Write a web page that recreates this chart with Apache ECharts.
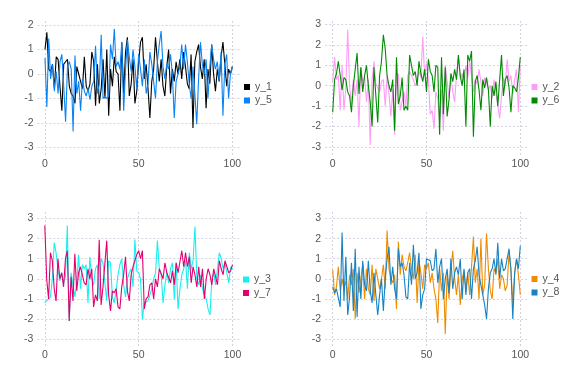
<!DOCTYPE html>
<html>
<head>
<meta charset="utf-8">
<script src="https://cdn.jsdelivr.net/npm/echarts@6/dist/echarts.min.js"></script>
<style>html,body{margin:0;padding:0;background:#fff}#c{width:576px;height:384px}</style>
</head>
<body>
<div id="c"></div>
<script>
const xTicks = [0, 50, 100];
const yTicksTL = [-3, -2, -1, 0, 1, 2];
const yTicks = [-3, -2, -1, 0, 1, 2, 3];

const y_1 = [1.0, 1.7, 0.2, 0.1, 0.4, -0.6, 0.7, 0.6, -0.5, -1.5,
  0.4, 0.5, 0.6, -0.5, -0.8, -0.9, -1.2, 0.3, 0.0, -0.3,
  -0.6, 0.7, -0.5, -0.7, -0.4, 0.9, 0.5, -1.3, 0.4, -1.2,
  -0.6, 0.6, -1.0, 1.0, -1.7, 0.2, -0.5, 0.7, 0.1, 0.0,
  -1.5, 1.3, -0.8, 0.9, 1.5, -0.9, -0.4, 0.6, -1.2, -0.7,
  0.5, 1.3, 1.5, -0.2, 0.4, -0.6, -1.8, -0.3, 0.2, 1.5,
  0.5, -0.3, 0.6, -0.5, -0.9, 0.3, 1.0, -0.8, 0.2, -0.3,
  0.5, 0.0, 0.6, -0.2, 0.9, 0.3, -0.4, -0.6, 0.8, -2.2,
  0.5, 0.9, 1.2, 0.3, -0.2, 0.6, -1.4, 0.2, -0.4, 1.2,
  0.0, -0.7, 0.2, -0.3, 0.7, 1.3, 0.4, -0.5, 0.2, 0.0,
  0.3];
const y_5 = [0.65, -1.35, 1.45, -0.2, 0.4, -0.7, 0.1, -0.8, 0.5, 0.8,
  -0.5, -1.95, 0.3, 0.5, 0.2, -2.35, 0.75, -0.8, -0.3, -1.5,
  -0.2, -0.7, -0.9, -0.6, -1.05, -0.5, -0.3, 1.15, -0.8, -0.4,
  1.6, -1.0, -0.9, -1.0, -0.9, 1.2, 0.6, 1.85, 0.3, 0.5,
  0.2, 1.3, -1.5, 0.2, 1.4, 0.7, 0.1, 1.0, 0.3, -0.6,
  0.8, 0.2, -0.5, 0.6, -0.8, -0.4, 0.9, 0.4, -0.3, -1.0,
  0.5, 1.2, 1.75, 0.3, -0.2, 0.4, 0.2, 0.8, 0.0, -1.8,
  -0.3, 0.0, 0.3, 1.2, 0.2, 1.2, 0.5, -0.4, -1.0, 0.3,
  -0.8, -2.05, -0.2, 1.3, 0.4, 0.0, 0.6, -1.0, 0.3, 1.2,
  0.6, 0.2, 0.5, -0.3, 0.9, -1.7, 0.4, 0.8, -1.0, 0.0,
  0.3];
const y_2 = [0.2, 1.4, 0.3, 0.5, -1.2, 1.0, -1.2, -0.1, 2.75, 0.0,
  -0.9, 0.3, -0.5, 0.3, -2.0, 0.9, 0.2, 0.4, -0.8, 0.3,
  -2.9, 0.3, 1.2, 0.1, 0.1, -0.3, 0.2, 0.3, -1.0, 0.5,
  -0.4, -1.5, -0.2, -2.4, 0.3, 0.6, -1.2, -0.8, -0.3, -1.0,
  0.5, 0.7, 0.5, 0.3, 0.0, 0.2, 0.7, 0.4, 2.4, 0.5,
  1.1, 0.3, -1.4, -1.2, -2.1, -0.3, -0.6, -1.6, -0.2, -2.2,
  1.0, 0.2, -0.6, 0.4, -0.3, -0.8, 0.5, 1.4, 0.3, 0.6,
  0.2, 1.0, 0.4, 1.2, 0.5, -0.3, 0.3, 0.1, 0.8, 0.2,
  -0.5, 0.4, 0.2, -0.2, 0.0, -0.6, 0.3, -0.3, -1.0, -1.6,
  -0.5, 0.4, 0.0, 1.3, 0.2, 0.5, -0.4, 0.3, 0.8, -1.3,
  1.0];
const y_6 = [-1.3, 0.3, 0.6, 1.2, 0.5, -0.2, 0.4, 0.3, -0.3, -0.5,
  -1.3, 0.0, 0.0, 1.6, -0.4, 0.9, -0.3, 0.5, 1.0, 0.0,
  -0.8, -2.0, 0.9, -0.5, -1.8, 0.5, 1.2, 2.5, 1.8, 0.5,
  0.0, -0.3, 0.3, -2.2, 1.4, -0.9, -0.5, 0.4, -1.2, -1.0,
  -1.2, 1.5, 1.0, 0.5, 0.7, 0.0, 1.2, 0.6, 0.2, 0.8,
  -0.3, 1.3, 0.7, 0.5, -0.3, 1.0, 0.9, -2.4, 1.4, -1.4,
  0.9, -1.5, -0.7, 0.6, 0.2, 0.8, 0.3, 1.5, 0.5, 0.0,
  0.8, -2.0, 1.5, 1.2, 1.7, -2.5, 0.2, 0.5, -0.2, -1.2,
  0.3, -0.1, 0.4, -0.2, -2.0, 0.0, -0.5, 0.2, -1.0, 0.3,
  1.5, -0.5, 0.3, 0.5, -0.1, -1.3, 0.0, -0.1, -0.3, 0.4,
  1.4];
const y_3 = [-1.2, -1.1, -1.0, -0.9, 0.0, 1.8, 1.3, 0.5, -0.1, 0.3,
  -0.2, 0.1, 2.65, -2.1, 0.3, 0.3, -0.9, -0.2, 1.2, -0.5,
  0.7, 0.5, 0.7, -1.2, 1.1, 0.0, -0.3, 0.5, 0.7, -1.0,
  1.0, 0.8, -0.2, -1.1, 0.9, 0.8, -0.9, -1.2, -0.6, 0.2,
  0.7, 1.0, -0.3, -0.9, 0.0, 0.3, 0.5, -0.4, 1.95, 0.4,
  0.3, 0.0, -2.0, -1.2, -1.2, -1.1, -0.8, -0.5, 0.0, 0.3,
  1.9, 0.5, 0.2, -1.2, -0.3, 0.3, -0.2, 0.5, 0.8, -1.0,
  0.8, -1.5, -0.5, 0.2, 0.5, 0.9, -0.5, 1.3, 0.5, 0.9,
  2.6, 0.0, -0.3, 0.2, -0.5, -0.8, -1.0, -1.5, -1.8, 0.0,
  0.3, -0.3, 0.5, 1.3, 1.0, 0.5, 0.8, 0.3, -0.2, 0.6,
  0.5];
const y_7 = [2.65, 0.0, -1.0, 1.3, 0.9, -0.5, -1.1, 1.0, 0.0, 0.3,
  -0.4, 1.0, 1.4, -2.1, 0.1, -1.1, 1.25, -0.6, 0.3, 0.6,
  0.6, -0.2, -0.3, 0.5, 0.0, 0.5, -1.4, -0.8, -1.1, 1.95,
  -1.3, -0.4, -0.4, 1.9, -0.8, -1.6, -0.6, -0.7, -0.5, -1.4,
  -1.5, -0.4, 0.2, 1.1, -0.6, -1.1, 0.2, 0.6, 0.6, 1.2,
  1.4, 1.0, 1.4, -1.5, -1.0, -0.9, -0.3, -0.2, -1.0, 0.0,
  -0.4, 0.5, 0.5, 0.0, 0.8, 0.3, 0.3, -0.2, 0.4, -0.3,
  0.8, 0.3, 0.3, 1.4, 0.6, 1.3, 0.6, 1.1, -0.2, 0.6,
  0.2, -0.4, 0.6, -0.4, 0.5, -1.0, 0.0, 0.5, 0.2, -0.3,
  0.5, 0.1, -0.3, 0.9, 0.5, 0.2, 0.9, 0.6, 0.3, 0.4,
  0.7];
const y_4 = [0.45, -0.8, -0.4, 0.6, -0.6, 0.0, -0.5, -0.1, -1.0, 0.2,
  -0.3, 0.5, -2.0, 0.3, -0.7, 0.0, 0.7, -1.0, 0.5, -0.5,
  -0.8, 0.7, -1.1, 0.5, 0.0, -0.5, 0.0, 0.7, -0.5, 2.4,
  0.5, 0.0, -0.2, 0.2, -1.5, 1.85, 0.2, 1.2, 0.6, 0.4,
  0.8, 1.3, 0.5, 0.0, 1.2, -1.2, 0.9, 0.3, -0.5, 0.7,
  0.5, 0.8, -0.2, 0.3, -0.5, -1.0, -2.2, 0.5, -0.6, 0.3,
  -2.75, 0.3, -1.0, 0.4, 1.4, 0.0, -0.8, 0.2, -1.3, 0.0,
  0.4, -0.5, 0.3, -0.8, 0.6, 2.1, -0.2, 0.5, -1.0, 2.0,
  -0.8, -0.3, 2.25, 0.5, -0.6, -1.0, 0.5, 0.3, 1.0, -0.5,
  0.2, 0.0, -0.6, -0.3, 1.3, 0.4, -1.2, 0.3, 1.0, 0.2,
  -0.8];
const y_8 = [-0.4, -0.7, -0.5, -0.5, -1.4, 2.3, -1.1, 1.1, -1.8, -0.9,
  0.8, -1.6, 1.5, -1.9, 0.6, -1.0, 0.9, -0.3, -0.6, 0.9,
  -0.6, -1.2, 0.3, -0.8, -1.8, -0.8, 0.0, -1.6, 0.0, 1.0,
  1.6, -0.3, 0.6, -0.5, -1.0, 1.5, 0.6, 0.8, 0.2, -0.9,
  -1.0, 0.8, -0.3, 1.7, 0.0, 0.3, 1.3, -1.5, -0.8, -0.5,
  1.0, 1.0, 0.9, 0.4, 0.5, 1.5, -0.2, 0.6, 1.0, -1.0,
  0.0, 0.5, -0.7, 1.0, -0.5, 0.3, 0.6, 0.2, 1.0, -1.0,
  0.5, -0.8, 0.3, 0.5, -1.0, 0.5, 0.9, 1.6, 0.2, -0.3,
  -0.8, -1.3, -2.0, -0.5, 0.3, 0.5, 1.0, 0.2, 1.8, 0.0,
  1.0, 0.4, 0.5, 1.0, 1.5, 0.5, -2.0, 0.3, 1.0, 0.5,
  1.65];

const colors = {
  y_1: '#000000', y_5: '#0a84f5',
  y_2: '#ff9cf8', y_6: '#008c00',
  y_3: '#19eef0', y_7: '#e6006f',
  y_4: '#f08c00', y_8: '#1683c4'
};

const grids = [
  {left: 37.5, top: 21, width: 202.3, height: 134.5},
  {left: 325.2, top: 21, width: 202.6, height: 134.5},
  {left: 37.3, top: 212, width: 202.7, height: 135},
  {left: 325.2, top: 212, width: 202.6, height: 135}
];
const yRanges = [[-3.328, 2.164], [-3.418, 3.172], [-3.397, 3.327], [-3.397, 3.327]];
const yTickSets = [yTicksTL, yTicks, yTicks, yTicks];

const gridLine = {show: true, lineStyle: {color: '#d2d2e0', width: 1, type: [2, 2]}};
const labelStyle = {color: '#555', fontSize: 10.5, fontFamily: 'Liberation Sans, Arial, sans-serif'};

const xAxes = grids.map((g, i) => ({
  type: 'value', gridIndex: i, min: -4, max: 104,
  axisLine: {show: false},
  axisTick: {show: false, customValues: xTicks},
  axisLabel: Object.assign({customValues: xTicks, margin: 3}, labelStyle),
  splitLine: gridLine
}));
const yAxes = grids.map((g, i) => ({
  type: 'value', gridIndex: i, min: yRanges[i][0], max: yRanges[i][1],
  axisLine: {show: false},
  axisTick: {show: false, customValues: yTickSets[i]},
  axisLabel: Object.assign({customValues: yTickSets[i], margin: 4}, labelStyle),
  splitLine: gridLine
}));

function mk(name, arr, gi) {
  return {
    name: name, type: 'line', xAxisIndex: gi, yAxisIndex: gi,
    data: arr.map((v, i) => [i, v]),
    showSymbol: false, symbol: 'none',
    lineStyle: {color: colors[name], width: 1.1},
    itemStyle: {color: colors[name]},
    animation: false
  };
}

const series = [
  mk('y_1', y_1, 0), mk('y_2', y_2, 1), mk('y_3', y_3, 2), mk('y_4', y_4, 3),
  mk('y_5', y_5, 0), mk('y_6', y_6, 1), mk('y_7', y_7, 2), mk('y_8', y_8, 3)
];

function lg(names, left, top) {
  return {
    data: names, left: left, top: top, orient: 'vertical', padding: 0,
    itemWidth: 6, itemHeight: 6, itemGap: 1.5, icon: 'rect',
    selectedMode: false,
    textStyle: {color: '#555', fontSize: 10.5, lineHeight: 12, fontFamily: 'Liberation Sans, Arial, sans-serif'}
  };
}

const chart = echarts.init(document.getElementById('c'), null, {renderer: 'canvas'});
chart.setOption({
  animation: false,
  backgroundColor: '#fff',
  grid: grids,
  xAxis: xAxes,
  yAxis: yAxes,
  legend: [
    lg(['y_1', 'y_5'], 244, 81),
    lg(['y_2', 'y_6'], 531.5, 81),
    lg(['y_3', 'y_7'], 243, 273.5),
    lg(['y_4', 'y_8'], 531.5, 273)
  ],
  series: series
});
</script>
</body>
</html>
